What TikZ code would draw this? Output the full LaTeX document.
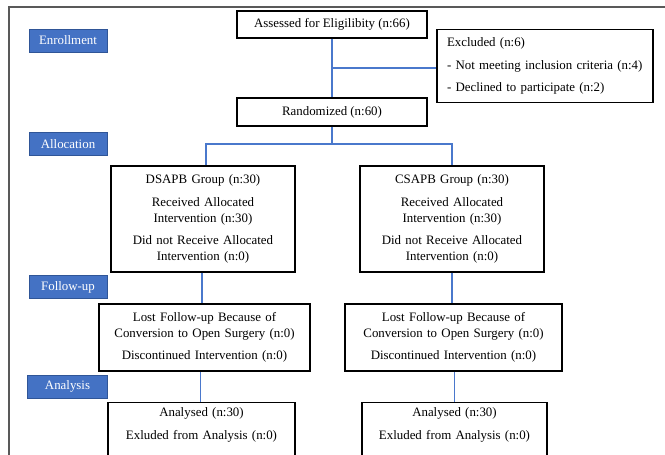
\documentclass[tikz,border=0pt]{standalone}
\usepackage{fontspec}
\setmainfont{Liberation Serif}
\usetikzlibrary{calc}

\newlength\px
\setlength\px{0.03cm}

\definecolor{phaseblue}{HTML}{4472C4}
\definecolor{phaseedge}{HTML}{2F5597}
\definecolor{flowblue}{HTML}{4A78CC}
\definecolor{framegray}{HTML}{595959}

\tikzset{
  box/.style={draw=black, line width=0.9pt, fill=white, align=center, inner sep=0pt,
    font=\fontsize{11}{13.5}\selectfont},
  phase/.style={draw=phaseedge, line width=0.5pt, fill=phaseblue, text=white, inner sep=0pt,
    minimum width=78\px, minimum height=23\px, font=\fontsize{11}{13.5}\selectfont},
  flow/.style={draw=flowblue, line width=1.2pt}
}

\begin{document}
\begin{tikzpicture}[x=0.03cm, y=-0.03cm]
\useasboundingbox (0, 0) rectangle (665, 455);
\draw[framegray, line width=1.4pt] (9, 470) -- (9, 7) -- (680, 7);

\path (68, 40.5) node[phase] (enroll) {Enrollment}
	  (68, 144) node[phase] (alloc) {Allocation}
	  (68, 287) node[phase] (follow) {Follow-up}
	  (67.5, 386.5) node[phase, minimum width=80\px] (analysis) {Analysis}

	  (332, 24.5) node[box, minimum width=190\px, minimum height=27\px] (assess) {Assessed for Eligilibity (n:66)}
	  (545, 66) node[box, align=left, text width=196\px, minimum width=216\px, minimum height=73\px] (excl)
		{Excluded (n:6)\\[6pt] - Not meeting inclusion criteria (n:4)\\[6pt] - Declined to participate (n:2)}
	  (332, 112) node[box, minimum width=190\px, minimum height=28\px] (rand) {Randomized (n:60)}

	  (203, 219) node[box, text width=184\px, minimum height=106\px] (dsapb)
		{DSAPB Group (n:30)\\[6pt] Received Allocated\\ Intervention (n:30)\\[6pt] Did not Receive Allocated\\ Intervention (n:0)}
	  (452, 219) node[box, text width=184\px, minimum height=106\px] (csapb)
		{CSAPB Group (n:30)\\[6pt] Received Allocated\\ Intervention (n:30)\\[6pt] Did not Receive Allocated\\ Intervention (n:0)}

	  (204.5, 337.5) node[box, text width=211\px, minimum height=67\px] (lostL)
		{Lost Follow-up Because of\\ Conversion to Open Surgery (n:0)\\[5pt] Discontinued Intervention (n:0)}
	  (453.5, 337.5) node[box, text width=217\px, minimum height=67\px] (lostR)
		{Lost Follow-up Because of\\ Conversion to Open Surgery (n:0)\\[5pt] Discontinued Intervention (n:0)}

	  (201.5, 402) node[box, anchor=north, text width=187\px, inner ysep=4pt] (anaL)
		{Analysed (n:30)\\[6pt] Exluded from Analysis (n:0)\\[6pt] \mbox{}}
	  (454.5, 402) node[box, anchor=north, text width=185\px, inner ysep=4pt] (anaR)
		{Analysed (n:30)\\[6pt] Exluded from Analysis (n:0)\\[6pt] \mbox{}};

\coordinate (split) at (332, 68);
\coordinate (fork) at (332, 144);

\draw[flow] (assess) -- (rand);
\draw[flow] (split) -- (split -| excl.west);
\draw[flow] (rand) -- (fork);
\draw[flow] ([xshift=3\px]dsapb.north) |- (fork) -| (csapb.north);

\draw[flow] ([xshift=-1\px]dsapb.south) -- ([xshift=-1\px]dsapb.south |- lostL.north);
\draw[flow] (csapb.south) -- (csapb.south |- lostR.north);
\draw[flow] ([xshift=-1\px]anaL.north) -- ([xshift=-1\px]anaL.north |- lostL.south);
\draw[flow] (anaR.north) -- (anaR.north |- lostR.south);
\end{tikzpicture}
\end{document}
